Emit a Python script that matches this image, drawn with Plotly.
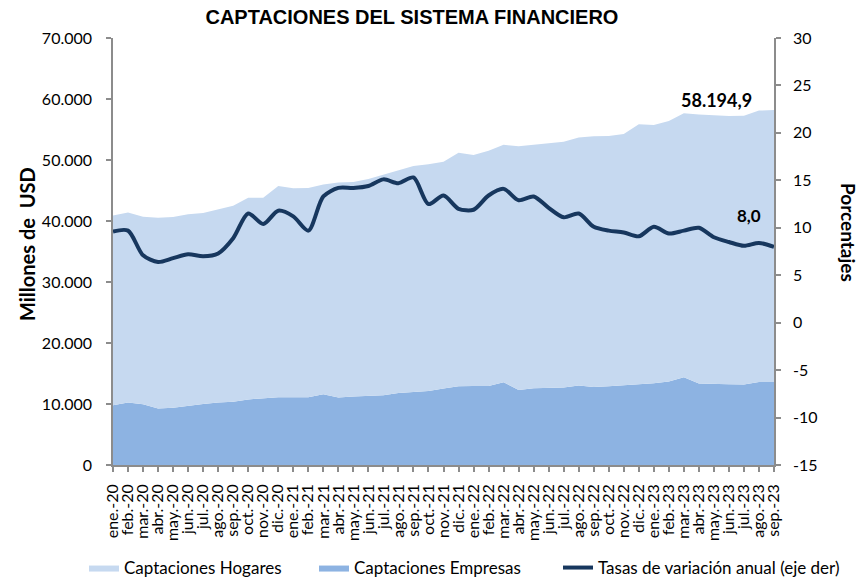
import plotly.graph_objects as go

# Periodos mensuales (eje de categorías)
periodos = [
    "ene.-20", "feb.-20", "mar.-20", "abr.-20", "may.-20", "jun.-20",
    "jul.-20", "ago.-20", "sep.-20", "oct.-20", "nov.-20", "dic.-20",
    "ene.-21", "feb.-21", "mar.-21", "abr.-21", "may.-21", "jun.-21",
    "jul.-21", "ago.-21", "sep.-21", "oct.-21", "nov.-21", "dic.-21",
    "ene.-22", "feb.-22", "mar.-22", "abr.-22", "may.-22", "jun.-22",
    "jul.-22", "ago.-22", "sep.-22", "oct.-22", "nov.-22", "dic.-22",
    "ene.-23", "feb.-23", "mar.-23", "abr.-23", "may.-23", "jun.-23",
    "jul.-23", "ago.-23", "sep.-23",
]

# Captaciones de empresas (millones de USD)
empresas = [
    9800, 10250, 9950, 9250, 9400, 9750, 10000, 10250, 10350, 10750, 10950, 11100,
    11100, 11100, 11600, 11050, 11250, 11300, 11450, 11800, 12000, 12150, 12550, 12900,
    12950, 12950, 13550, 12300, 12600, 12600, 12700, 13050, 12800, 12900, 13050, 13200,
    13400, 13700, 14400, 13350, 13350, 13250, 13200, 13600, 13600.0,
]

# Captaciones de hogares (millones de USD)
hogares = [
    31100, 31150, 30750, 31300, 31250, 31350, 31300, 31700, 32150, 33050, 32850, 34650,
    34250, 34300, 34400, 35250, 35150, 35600, 36150, 36400, 37000, 37150, 37150, 38300,
    37850, 38550, 38950, 39950, 39900, 40100, 40300, 40650, 41100, 41050, 41200, 42650,
    42350, 42700, 43250, 44100, 43950, 43950, 44050, 44500, 44594.9,
]

# Tasa de variación anual del total (%)
tasa = [
    9.6, 9.7, 7.1, 6.4, 6.8, 7.2, 7.0, 7.3, 8.9, 11.5, 10.4, 11.8,
    11.2, 9.7, 13.3, 14.2, 14.2, 14.4, 15.1, 14.7, 15.3, 12.5, 13.4, 12.0,
    11.9, 13.4, 14.1, 12.9, 13.3, 12.1, 11.1, 11.5, 10.1, 9.7, 9.5, 9.1,
    10.1, 9.4, 9.7, 10.0, 9.0, 8.5, 8.1, 8.4, 8.0,
]

# Ejes
y_left_vals = [0, 10000, 20000, 30000, 40000, 50000, 60000, 70000]
y_left_text = ["0", "10.000", "20.000", "30.000", "40.000", "50.000", "60.000", "70.000"]
y_right_vals = [-15, -10, -5, 0, 5, 10, 15, 20, 25, 30]
y_right_text = ["-15", "-10", "-5", "0", "5", "10", "15", "20", "25", "30"]

C_HOGARES = "#C6D9F0"
C_EMPRESAS = "#8DB3E2"
C_TASA = "#17375E"
C_AXIS = "#8C8C8C"
FONT = "Lato"

W, H = 860, 580
total_final = hogares[-1] + empresas[-1]


def fmt_es(v, dec=1):
    s = f"{v:,.{dec}f}"
    return s.replace(",", "_").replace(".", ",").replace("_", ".")


fig = go.Figure()

fig.add_trace(go.Scatter(
    x=periodos, y=empresas, name="Captaciones Empresas", legend="legend2",
    stackgroup="cap", mode="lines", line=dict(width=0, color=C_EMPRESAS),
    fillcolor=C_EMPRESAS,
))
fig.add_trace(go.Scatter(
    x=periodos, y=hogares, name="Captaciones Hogares", legend="legend",
    stackgroup="cap", mode="lines", line=dict(width=0, color=C_HOGARES),
    fillcolor=C_HOGARES,
))
fig.add_trace(go.Scatter(
    x=periodos, y=tasa, name="Tasas de variación anual (eje der)",
    yaxis="y2", legend="legend3",
    mode="lines", line=dict(color=C_TASA, width=4, shape="spline", smoothing=0.8),
))

axis_common = dict(
    showline=True, linecolor=C_AXIS, linewidth=1.5,
    ticks="outside", ticklen=5, tickcolor=C_AXIS, tickwidth=1.5,
    showgrid=False, zeroline=False, automargin=False,
    tickfont=dict(family=FONT, size=16, color="#000000"),
)


def legend_at(x_px):
    # one-entry legend anchored at a pixel position in the bottom row
    return dict(
        orientation="h", xref="container", x=x_px / W, xanchor="left",
        yref="container", y=12 / H, yanchor="middle",
        font=dict(family=FONT, size=17, color="#000000"),
        itemwidth=30, bgcolor="rgba(0,0,0,0)",
    )


fig.update_layout(
    width=W, height=H,
    margin=dict(l=113, r=86, t=38, b=115, autoexpand=False),
    paper_bgcolor="white", plot_bgcolor="white",
    title=dict(
        text="<b>CAPTACIONES DEL SISTEMA FINANCIERO</b>",
        font=dict(family="Liberation Sans", size=20, color="#000000"),
        x=0.479, xanchor="center", y=1 - 17 / H, yanchor="middle",
    ),
    xaxis=dict(
        type="category", range=[0, len(periodos) - 1],
        tickmode="array", tickvals=periodos, ticktext=periodos,
        tickangle=-90, ticklabelstandoff=6, **axis_common,
    ),
    yaxis=dict(
        range=[0, 70000], tickmode="array", ticklabelstandoff=11,
        tickvals=y_left_vals, ticktext=y_left_text, **axis_common,
    ),
    yaxis2=dict(
        overlaying="y", side="right", range=[-15, 30], tickmode="array",
        ticklabelstandoff=9,
        tickvals=y_right_vals, ticktext=y_right_text, **axis_common,
    ),
    legend=legend_at(84),
    legend2=legend_at(314),
    legend3=legend_at(558),
    showlegend=True,
)

fig.add_annotation(
    x=periodos[-1], y=total_final, xref="x", yref="y",
    text=f"<b>{fmt_es(total_final)}</b>", showarrow=False,
    xanchor="right", yanchor="middle", xshift=-20, yshift=10,
    font=dict(family=FONT, size=18, color="#000000"),
)
fig.add_annotation(
    x=periodos[-1], y=tasa[-1], xref="x", yref="y2",
    text=f"<b>{fmt_es(tasa[-1])}</b>", showarrow=False,
    xanchor="right", yanchor="middle", xshift=-11, yshift=31,
    font=dict(family=FONT, size=17, color="#000000"),
)
fig.add_annotation(
    x=(27 - 113) / 661, y=(465 - 244) / 427, xref="paper", yref="paper",
    text="<b>Millones de  USD</b>", showarrow=False, textangle=-90,
    xanchor="center", yanchor="middle",
    font=dict(family=FONT, size=20, color="#000000"),
)
fig.add_annotation(
    x=(848 - 113) / 661, y=(465 - 232) / 427, xref="paper", yref="paper",
    text="<b>Porcentajes</b>", showarrow=False, textangle=90,
    xanchor="center", yanchor="middle",
    font=dict(family=FONT, size=19, color="#000000"),
)

fig.write_html("out.html")
